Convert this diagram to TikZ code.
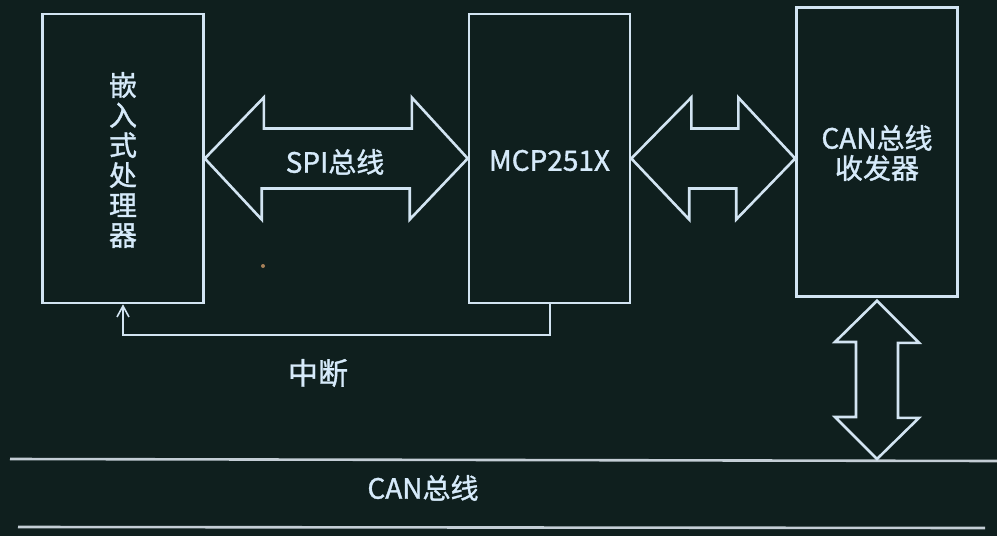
\documentclass[tikz,border=0pt]{standalone}
\usepackage{fontspec}
\setmainfont{Noto Sans CJK SC}[FakeBold=1.2]
\usetikzlibrary{arrows.meta,calc}
\definecolor{bg}{HTML}{0F1F1E}
\definecolor{ln}{HTML}{D2E4F2}
\definecolor{tx}{HTML}{D6EAFA}
\definecolor{busc}{HTML}{C4CED6}
\begin{document}
\begin{tikzpicture}[x=1pt,y=-1pt,
  boxst/.style={draw=ln,line width=2.6pt,minimum width=161pt,minimum height=289pt,inner sep=0pt},
  blk/.style={draw=ln,line width=2.6pt,line join=miter},
  lbl/.style={text=tx,font=\fontsize{28}{30}\selectfont,inner sep=0pt},
  irq/.style={draw=ln,line width=2pt},
  busl/.style={draw=busc,line width=2.6pt}]
\fill[bg] (0,0) rectangle (997,536);
\useasboundingbox (0,0) rectangle (997,536);
% boxes
\node[boxst] (cpu) at (123,158.5) {};
\node[boxst] (mcp) at (549.5,158.5) {};
\node[boxst] (can) at (877,152) {};
% box texts
\node[lbl,align=center] (cput) at (123,160) {\fontsize{28}{38}\selectfont 嵌\\入\\式\\处\\理\\器};
\node[lbl] (mcpt) at (549.5,160.5) {MCP251X};
\node[lbl,align=center] (cant) at (877,153) {\fontsize{28}{41}\selectfont CAN总线\\收发器};
% SPI block arrow
\draw[blk] (cpu.east) -- ++(59,-61) -- ++(0,31) -- ++(148,0) -- ++(0,-31)
  -- (mcp.west) -- ++(-58,61) -- ++(0,-31) -- ++(-148,0) -- ++(0,31) -- cycle;
\node[lbl] (spit) at (335,162) {SPI总线};
% MCP to CAN transceiver block arrow
\coordinate (canw) at (can.west |- mcp.east);
\draw[blk] (mcp.east) -- ++(60,-61) -- ++(0,31) -- ++(47,0) -- ++(0,-31)
  -- (canw) -- ++(-59,61) -- ++(0,-31) -- ++(-47,0) -- ++(0,31) -- cycle;
% bus lines
\coordinate (busL) at (10,459);
\coordinate (busR) at (997,461);
\coordinate (bus2L) at (18,527);
\coordinate (bus2R) at (985,528);
\draw[busl] (busL) -- (busR);
\draw[busl] (bus2L) -- (bus2R);
\node[lbl] (bust) at (423,488) {CAN总线};
% vertical block arrow
\coordinate (vt) at ([yshift=-3pt]can.south);
\coordinate (vb) at (can.south |- busL);
\draw[blk] (vt) -- ++(42,42) -- ++(-21,0) -- ++(0,75) -- ++(21,0)
  -- (vb) -- ++(-42,-42) -- ++(21,0) -- ++(0,-75) -- ++(-21,0) -- cycle;
% interrupt line
\draw[irq,-{Straight Barb[length=11pt,width=12pt,line width=1.6pt]}] (mcp.south) -- ++(0,31) -| (cpu.south);
\node[lbl,font=\fontsize{30}{32}\selectfont] (irqt) at (318,373) {中断};
% stray dot
\fill[color=gray!70!orange] (263,266) circle (2pt);
\end{tikzpicture}
\end{document}
